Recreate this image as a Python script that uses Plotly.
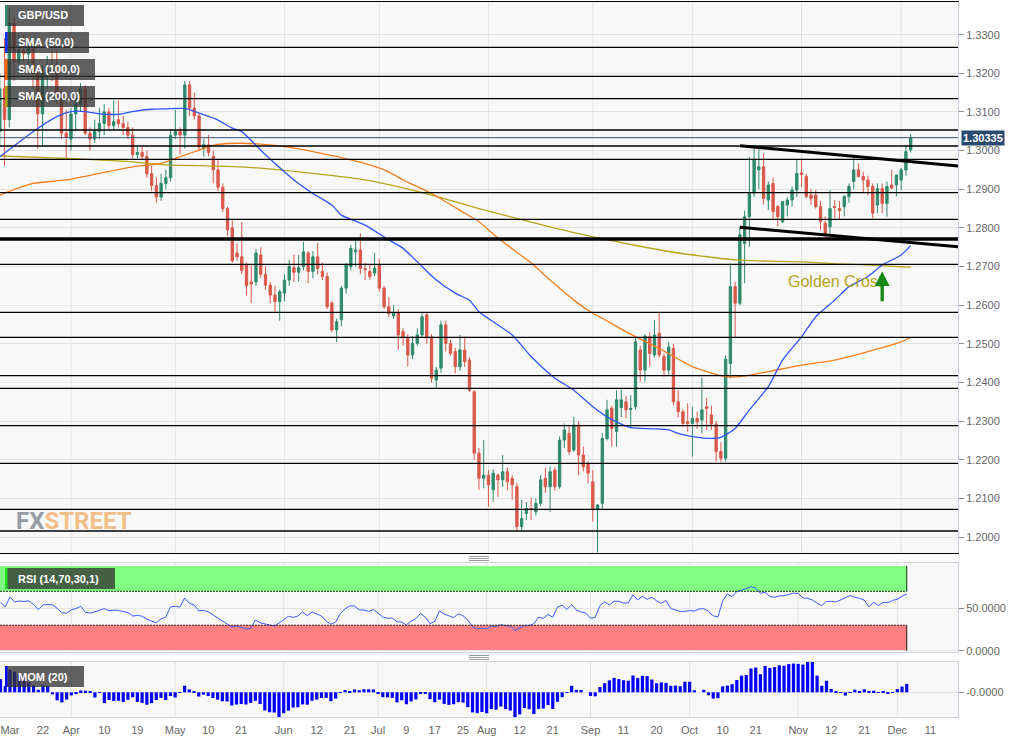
import numpy as np
import pandas as pd
import plotly.graph_objects as go

# ---------------------------------------------------------------- data
first_day = "2019-03-11"
last_day = "2019-12-04"
trade_days = pd.bdate_range(first_day, last_day)
calendar = pd.bdate_range(first_day, "2019-12-31")
pos = {d.strftime("%Y-%m-%d"): k for k, d in enumerate(calendar)}

open_ = [
    1.3050, 1.3160, 1.3080, 1.3330, 1.3230, 1.3260, 1.3250, 1.3265, 1.3200, 1.3095,
    1.3200, 1.3210, 1.3205, 1.3140, 1.3045, 1.3030, 1.3095, 1.3120, 1.3160, 1.3045,
    1.3030, 1.3050, 1.3070, 1.3100, 1.3065, 1.3080, 1.3070, 1.3060, 1.3040, 1.2990,
    1.2995, 1.2985, 1.2940, 1.2910, 1.2880, 1.2915, 1.2930, 1.3040, 1.3050, 1.3040,
    1.3170, 1.3110, 1.3090, 1.3005, 1.3015, 1.2985, 1.2950, 1.2905, 1.2850, 1.2800,
    1.2735, 1.2725, 1.2705, 1.2660, 1.2660, 1.2730, 1.2680, 1.2652, 1.2626, 1.2609,
    1.2631, 1.2665, 1.2697, 1.2685, 1.2700, 1.2735, 1.2687, 1.2725, 1.2687, 1.2674,
    1.2606, 1.2536, 1.2562, 1.2644, 1.2700, 1.2738, 1.2743, 1.2695, 1.2687, 1.2683,
    1.2704, 1.2644, 1.2596, 1.2572, 1.2580, 1.2531, 1.2514, 1.2471, 1.2501, 1.2523,
    1.2575, 1.2518, 1.2406, 1.2437, 1.2549, 1.2501, 1.2480, 1.2441, 1.2484, 1.2458,
    1.2376, 1.2217, 1.2152, 1.2160, 1.2122, 1.2160, 1.2148, 1.2169, 1.2152, 1.2130,
    1.2027, 1.2061, 1.2074, 1.2065, 1.2087, 1.2152, 1.2130, 1.2173, 1.2130, 1.2251,
    1.2268, 1.2225, 1.2290, 1.2212, 1.2191, 1.2143, 1.2070, 1.2087, 1.2255, 1.2333,
    1.2273, 1.2335, 1.2350, 1.2330, 1.2337, 1.2484, 1.2432, 1.2518, 1.2471, 1.2527,
    1.2467, 1.2432, 1.2488, 1.2350, 1.2324, 1.2298, 1.2294, 1.2307, 1.2303, 1.2337,
    1.2316, 1.2292, 1.2221, 1.2204, 1.2449, 1.2648, 1.2605, 1.2760, 1.2829, 1.2890,
    1.2950, 1.2958, 1.2872, 1.2915, 1.2855, 1.2816, 1.2859, 1.2872, 1.2898, 1.2942,
    1.2933, 1.2885, 1.2885, 1.2855, 1.2812, 1.2803, 1.2855, 1.2850, 1.2855, 1.2881,
    1.2920, 1.2950, 1.2933, 1.2924, 1.2907, 1.2859, 1.2902, 1.2863, 1.2911, 1.2911,
    1.2924, 1.2950, 1.3002,
]
high = [
    1.3200, 1.3290, 1.3370, 1.3345, 1.3300, 1.3300, 1.3290, 1.3275, 1.3205, 1.3220,
    1.3245, 1.3260, 1.3260, 1.3160, 1.3105, 1.3110, 1.3150, 1.3175, 1.3170, 1.3060,
    1.3080, 1.3110, 1.3120, 1.3110, 1.3130, 1.3130, 1.3090, 1.3075, 1.3060, 1.3010,
    1.3010, 1.3000, 1.2960, 1.2930, 1.2940, 1.2950, 1.3055, 1.3105, 1.3060, 1.3180,
    1.3180, 1.3150, 1.3095, 1.3030, 1.3040, 1.3000, 1.2975, 1.2915, 1.2855, 1.2825,
    1.2760, 1.2815, 1.2710, 1.2705, 1.2745, 1.2750, 1.2700, 1.2660, 1.2650, 1.2640,
    1.2680, 1.2717, 1.2730, 1.2730, 1.2764, 1.2740, 1.2740, 1.2761, 1.2710, 1.2685,
    1.2610, 1.2565, 1.2650, 1.2710, 1.2756, 1.2773, 1.2786, 1.2710, 1.2705, 1.2735,
    1.2720, 1.2650, 1.2620, 1.2600, 1.2590, 1.2540, 1.2525, 1.2520, 1.2540, 1.2579,
    1.2580, 1.2525, 1.2440, 1.2560, 1.2560, 1.2510, 1.2490, 1.2523, 1.2519, 1.2465,
    1.2380, 1.2230, 1.2251, 1.2173, 1.2175, 1.2165, 1.2212, 1.2180, 1.2160, 1.2140,
    1.2096, 1.2090, 1.2101, 1.2100, 1.2160, 1.2179, 1.2182, 1.2180, 1.2260, 1.2294,
    1.2290, 1.2311, 1.2300, 1.2234, 1.2195, 1.2173, 1.2085, 1.2269, 1.2355, 1.2340,
    1.2380, 1.2382, 1.2365, 1.2367, 1.2515, 1.2495, 1.2525, 1.2530, 1.2562, 1.2583,
    1.2475, 1.2505, 1.2500, 1.2380, 1.2330, 1.2346, 1.2337, 1.2324, 1.2412, 1.2360,
    1.2340, 1.2300, 1.2245, 1.2470, 1.2708, 1.2660, 1.2803, 1.2845, 1.2984, 1.3009,
    1.3006, 1.2993, 1.2920, 1.2930, 1.2860, 1.2870, 1.2880, 1.2907, 1.2976, 1.2975,
    1.2940, 1.2900, 1.2898, 1.2870, 1.2830, 1.2898, 1.2872, 1.2870, 1.2885, 1.2915,
    1.2984, 1.2967, 1.2945, 1.2935, 1.2915, 1.2915, 1.2915, 1.2920, 1.2950, 1.2937,
    1.2955, 1.3014, 1.3043,
]
low = [
    1.3010, 1.2960, 1.3060, 1.3180, 1.3190, 1.3230, 1.3220, 1.3160, 1.3005, 1.3010,
    1.3160, 1.3180, 1.3120, 1.3030, 1.2980, 1.3000, 1.3050, 1.3100, 1.3040, 1.3000,
    1.3020, 1.3030, 1.3040, 1.3055, 1.3055, 1.3060, 1.3040, 1.3030, 1.2980, 1.2980,
    1.2975, 1.2930, 1.2895, 1.2865, 1.2870, 1.2900, 1.2920, 1.3030, 1.2990, 1.3005,
    1.3090, 1.3080, 1.3000, 1.2985, 1.2985, 1.2915, 1.2895, 1.2840, 1.2780, 1.2710,
    1.2715, 1.2680, 1.2625, 1.2605, 1.2650, 1.2670, 1.2640, 1.2605, 1.2583, 1.2560,
    1.2610, 1.2650, 1.2660, 1.2660, 1.2690, 1.2657, 1.2670, 1.2680, 1.2665, 1.2590,
    1.2530, 1.2505, 1.2545, 1.2630, 1.2690, 1.2700, 1.2680, 1.2665, 1.2665, 1.2675,
    1.2635, 1.2590, 1.2570, 1.2565, 1.2484, 1.2495, 1.2441, 1.2460, 1.2495, 1.2515,
    1.2500, 1.2400, 1.2385, 1.2425, 1.2480, 1.2470, 1.2424, 1.2430, 1.2440, 1.2375,
    1.2200, 1.2122, 1.2126, 1.2078, 1.2091, 1.2104, 1.2130, 1.2120, 1.2096, 1.2015,
    1.2018, 1.2044, 1.2044, 1.2055, 1.2080, 1.2114, 1.2065, 1.2120, 1.2125, 1.2230,
    1.2212, 1.2220, 1.2160, 1.2170, 1.2139, 1.2040, 1.1960, 1.2070, 1.2250, 1.2234,
    1.2234, 1.2310, 1.2307, 1.2281, 1.2330, 1.2402, 1.2402, 1.2441, 1.2465, 1.2465,
    1.2415, 1.2420, 1.2340, 1.2310, 1.2285, 1.2273, 1.2208, 1.2280, 1.2268, 1.2277,
    1.2277, 1.2195, 1.2195, 1.2195, 1.2411, 1.2518, 1.2600, 1.2657, 1.2751, 1.2880,
    1.2900, 1.2860, 1.2846, 1.2820, 1.2803, 1.2812, 1.2830, 1.2855, 1.2880, 1.2905,
    1.2876, 1.2860, 1.2850, 1.2795, 1.2777, 1.2780, 1.2825, 1.2822, 1.2830, 1.2865,
    1.2900, 1.2930, 1.2890, 1.2885, 1.2825, 1.2838, 1.2838, 1.2829, 1.2900, 1.2881,
    1.2898, 1.2935, 1.2995,
]
close = [
    1.3160, 1.3080, 1.3330, 1.3230, 1.3260, 1.3250, 1.3265, 1.3200, 1.3095, 1.3200,
    1.3210, 1.3205, 1.3140, 1.3045, 1.3035, 1.3095, 1.3120, 1.3160, 1.3045, 1.3030,
    1.3050, 1.3070, 1.3100, 1.3065, 1.3075, 1.3070, 1.3060, 1.3040, 1.2990, 1.2995,
    1.2985, 1.2940, 1.2910, 1.2880, 1.2915, 1.2930, 1.3040, 1.3050, 1.3040, 1.3170,
    1.3110, 1.3090, 1.3010, 1.3015, 1.2995, 1.2950, 1.2905, 1.2850, 1.2795, 1.2715,
    1.2725, 1.2690, 1.2650, 1.2655, 1.2735, 1.2680, 1.2652, 1.2626, 1.2609, 1.2635,
    1.2665, 1.2700, 1.2685, 1.2697, 1.2738, 1.2687, 1.2725, 1.2695, 1.2674, 1.2596,
    1.2536, 1.2557, 1.2644, 1.2704, 1.2747, 1.2743, 1.2695, 1.2692, 1.2674, 1.2696,
    1.2644, 1.2596, 1.2578, 1.2580, 1.2523, 1.2518, 1.2471, 1.2501, 1.2523, 1.2570,
    1.2518, 1.2411, 1.2432, 1.2549, 1.2501, 1.2475, 1.2441, 1.2484, 1.2454, 1.2380,
    1.2217, 1.2152, 1.2160, 1.2135, 1.2165, 1.2148, 1.2169, 1.2143, 1.2135, 1.2027,
    1.2048, 1.2074, 1.2072, 1.2087, 1.2148, 1.2130, 1.2169, 1.2130, 1.2251, 1.2277,
    1.2221, 1.2290, 1.2212, 1.2182, 1.2165, 1.2070, 1.2083, 1.2255, 1.2329, 1.2281,
    1.2355, 1.2355, 1.2329, 1.2333, 1.2505, 1.2432, 1.2520, 1.2475, 1.2523, 1.2471,
    1.2432, 1.2492, 1.2350, 1.2324, 1.2294, 1.2294, 1.2307, 1.2298, 1.2329, 1.2333,
    1.2292, 1.2221, 1.2204, 1.2460, 1.2648, 1.2605, 1.2782, 1.2829, 1.2890, 1.2976,
    1.2958, 1.2876, 1.2911, 1.2842, 1.2829, 1.2868, 1.2872, 1.2898, 1.2941, 1.2938,
    1.2881, 1.2876, 1.2855, 1.2816, 1.2786, 1.2850, 1.2853, 1.2845, 1.2881, 1.2907,
    1.2950, 1.2933, 1.2924, 1.2907, 1.2838, 1.2902, 1.2863, 1.2907, 1.2903, 1.2937,
    1.2950, 1.2997, 1.30335,
]
# closes of the 40 sessions before the visible window (indicator warm-up)
pre_close = [
    1.2870, 1.2840, 1.2870, 1.2990, 1.2880, 1.2870, 1.2950, 1.3040, 1.3070, 1.3200,
    1.3190, 1.3080, 1.3120, 1.3120, 1.3075, 1.3040, 1.2940, 1.2930, 1.2940, 1.2940,
    1.2880, 1.2950, 1.2850, 1.2790, 1.2900, 1.2930, 1.3050, 1.3050, 1.3040, 1.3050,
    1.3080, 1.3250, 1.3310, 1.3260, 1.3190, 1.3160, 1.3160, 1.3120, 1.3010, 1.3010,
]

sma50_dates = ["2019-03-11", "2019-03-20", "2019-03-27", "2019-04-01", "2019-04-04", "2019-04-09",
               "2019-04-15", "2019-04-18", "2019-04-24", "2019-04-29", "2019-05-03", "2019-05-08",
               "2019-05-14", "2019-05-17", "2019-05-21", "2019-05-28", "2019-06-05", "2019-06-11",
               "2019-06-17", "2019-06-19", "2019-06-26", "2019-07-03", "2019-07-08", "2019-07-12",
               "2019-07-17", "2019-07-23", "2019-07-26", "2019-07-30", "2019-08-08", "2019-08-14",
               "2019-08-21", "2019-08-27", "2019-09-02", "2019-09-05", "2019-09-10", "2019-09-12",
               "2019-09-19", "2019-09-24", "2019-09-26", "2019-10-01", "2019-10-07", "2019-10-09",
               "2019-10-14", "2019-10-17", "2019-10-23", "2019-10-28", "2019-11-01", "2019-11-06",
               "2019-11-12", "2019-11-15", "2019-11-21", "2019-11-26", "2019-12-02", "2019-12-04"]
sma50_vals = [1.2984, 1.3049, 1.3088, 1.3101, 1.3101, 1.3095,
              1.3094, 1.3101, 1.3107, 1.3108, 1.3109, 1.3097,
              1.3079, 1.3058, 1.3049, 1.2989, 1.2924, 1.2889,
              1.2859, 1.2833, 1.2807, 1.2769, 1.2747, 1.2700,
              1.2665, 1.2631, 1.2613, 1.2583, 1.2523, 1.2467,
              1.2411, 1.2380, 1.2337, 1.2311, 1.2292, 1.2283,
              1.2280, 1.2277, 1.2268, 1.2260, 1.2255, 1.2258,
              1.2281, 1.2329, 1.2389, 1.2458, 1.2518, 1.2570,
              1.2613, 1.2648, 1.2674, 1.2704, 1.2730, 1.2754]

sma100_dates = ["2019-03-11", "2019-03-20", "2019-03-29", "2019-04-09", "2019-04-18", "2019-04-26",
                "2019-05-01", "2019-05-07", "2019-05-10", "2019-05-14", "2019-05-21", "2019-05-31",
                "2019-06-12", "2019-06-25", "2019-07-03", "2019-07-08", "2019-07-16", "2019-07-25",
                "2019-07-30", "2019-08-05", "2019-08-14", "2019-08-20", "2019-08-27", "2019-09-02",
                "2019-09-04", "2019-09-11", "2019-09-20", "2019-10-01", "2019-10-10", "2019-10-15",
                "2019-10-23", "2019-11-01", "2019-11-12", "2019-11-21", "2019-12-02", "2019-12-04"]
sma100_vals = [1.2885, 1.2915, 1.2924, 1.2941, 1.2958, 1.2967,
               1.2980, 1.2997, 1.3010, 1.3016, 1.3019, 1.3012,
               1.2995, 1.2970, 1.2945, 1.2924, 1.2889, 1.2838,
               1.2816, 1.2774, 1.2709, 1.2665, 1.2613, 1.2579,
               1.2566, 1.2531, 1.2488, 1.2441, 1.2415, 1.2415,
               1.2428, 1.2445, 1.2458, 1.2480, 1.2505, 1.2517]

sma200_dates = ["2019-03-11", "2019-03-29", "2019-04-18", "2019-04-29", "2019-05-08", "2019-05-21",
                "2019-06-06", "2019-06-26", "2019-07-16", "2019-07-30", "2019-08-14", "2019-08-28",
                "2019-09-12", "2019-09-26", "2019-10-03", "2019-10-14", "2019-10-23", "2019-11-01",
                "2019-11-12", "2019-11-21", "2019-12-04"]
sma200_vals = [1.2986, 1.2980, 1.2971, 1.2963, 1.2961, 1.2958,
               1.2945, 1.2924, 1.2885, 1.2850, 1.2815, 1.2785,
               1.2757, 1.2735, 1.2727, 1.2717, 1.2714, 1.2712,
               1.2707, 1.2704, 1.2698]

levels = [1.32673, 1.31923, 1.31343, 1.30533, 1.30119, 1.29775, 1.28911, 1.28222,
          1.27057, 1.25815, 1.25168, 1.24174, 1.23848, 1.22880, 1.21907, 1.20717, 1.20155]
key_level = 1.27712
trend_upper = (["2019-10-15", "2019-12-18"], [1.30127, 1.29604])
trend_lower = (["2019-10-15", "2019-12-18"], [1.28015, 1.27510])
last_price = 1.30335

tick_dates = ["2019-03-13", "2019-03-22", "2019-04-01", "2019-04-10", "2019-04-19", "2019-05-01",
              "2019-05-10", "2019-05-21", "2019-06-03", "2019-06-12", "2019-06-21", "2019-07-01",
              "2019-07-09", "2019-07-17", "2019-07-25", "2019-08-01", "2019-08-12", "2019-08-21",
              "2019-09-02", "2019-09-11", "2019-09-20", "2019-10-01", "2019-10-10", "2019-10-21",
              "2019-11-01", "2019-11-12", "2019-11-21", "2019-12-02", "2019-12-11"]
tick_labels = ["Mar", "22", "Apr", "10", "19", "May", "10", "21", "Jun", "12", "21", "Jul",
               "9", "17", "25", "Aug", "12", "21", "Sep", "11", "20", "Oct", "10", "21",
               "Nov", "12", "21", "Dec", "11"]
month_dates = ["2019-04-01", "2019-05-01", "2019-06-03", "2019-07-01", "2019-08-01",
               "2019-09-02", "2019-10-01", "2019-11-01", "2019-12-02"]
price_ticks = [1.20, 1.21, 1.22, 1.23, 1.24, 1.25, 1.26, 1.27, 1.28, 1.29, 1.30, 1.31, 1.32, 1.33]

# ---------------------------------------------------------------- indicators
xpos = [pos[d.strftime("%Y-%m-%d")] for d in trade_days]
allc = np.array(pre_close + close)
npre = len(pre_close)
mom = allc[npre:] - allc[npre - 20:len(allc) - 20]

diff = np.diff(allc)
gain = np.clip(diff, 0, None)
loss = np.clip(-diff, 0, None)
rsi_all = np.full(len(allc), np.nan)
ag, al = gain[:14].mean(), loss[:14].mean()
rsi_all[14] = 100 - 100 / (1 + ag / al)
for k in range(14, len(diff)):
    ag = (ag * 13 + gain[k]) / 14
    al = (al * 13 + loss[k]) / 14
    rsi_all[k + 1] = 100 - 100 / (1 + ag / al)
rsi = rsi_all[npre:]

# ---------------------------------------------------------------- style / geometry
FONT = "Liberation Sans, Arial, Helvetica, sans-serif"
C_UP, C_DN = "#2e8a6c", "#d9584a"
C50, C100, C200 = "#2f55ff", "#f57e1e", "#b9a51a"
W, H = 1029, 743
PL, PR, PT, PB = 0, 958, 2, 717          # plot area in px


def fx(px):
    return (px - PL) / (PR - PL)


def fy(py):
    return (PB - py) / (PB - PT)


MAIN_XR = [0.04, 201.98]
LOW_XR = [-0.106, 202.86]
MAIN_YR = [1.195859, 1.338458]
RSI_YR = [-1.53, 103.42]
MOM_YR = [-0.05255, 0.06447]

fig = go.Figure()

for dts, vals, col in [(sma200_dates, sma200_vals, C200), (sma100_dates, sma100_vals, C100),
                       (sma50_dates, sma50_vals, C50)]:
    fig.add_trace(go.Scatter(x=[pos[d] for d in dts], y=vals, mode="lines",
                             line=dict(color=col, width=1.3, shape="spline", smoothing=0.6),
                             xaxis="x", yaxis="y", hoverinfo="skip"))

fig.add_trace(go.Candlestick(
    x=xpos, open=open_, high=high, low=low, close=close, xaxis="x", yaxis="y",
    increasing=dict(line=dict(color=C_UP, width=1), fillcolor=C_UP),
    decreasing=dict(line=dict(color=C_DN, width=1), fillcolor=C_DN),
    whiskerwidth=0))

fig.add_trace(go.Scatter(x=xpos, y=rsi, mode="lines", line=dict(color="#3a5dff", width=1),
                         xaxis="x2", yaxis="y2", hoverinfo="skip"))
fig.add_trace(go.Bar(x=xpos, y=mom, marker=dict(color="#0000ff", line=dict(width=0)),
                     width=0.68, xaxis="x3", yaxis="y3", hoverinfo="skip"))

shapes = []
# month gridlines
for xr, yr in [("x", "y domain"), ("x2", "y2 domain"), ("x3", "y3 domain")]:
    for d in month_dates:
        shapes.append(dict(type="line", xref=xr, yref=yr, x0=pos[d], x1=pos[d], y0=0, y1=1,
                           line=dict(color="#e3e3e3", width=1), layer="below"))
# RSI zones
lastx = pos[last_day]
shapes += [
    dict(type="rect", xref="x2", yref="y2", x0=LOW_XR[0], x1=lastx, y0=70, y1=100,
         fillcolor="#80ff80", line=dict(width=0), layer="below"),
    dict(type="rect", xref="x2", yref="y2", x0=LOW_XR[0], x1=lastx, y0=0, y1=30,
         fillcolor="#ff8080", line=dict(width=0), layer="below"),
    dict(type="line", xref="x2", yref="y2", x0=LOW_XR[0], x1=lastx, y0=70, y1=70,
         line=dict(color="#1a3a1a", width=1, dash="2px,1px")),
    dict(type="line", xref="x2", yref="y2", x0=LOW_XR[0], x1=lastx, y0=30, y1=30,
         line=dict(color="#3a1a1a", width=1, dash="2px,1px")),
    dict(type="line", xref="x2", yref="y2", x0=lastx, x1=lastx, y0=70, y1=100,
         line=dict(color="#143014", width=1)),
    dict(type="line", xref="x2", yref="y2", x0=lastx, x1=lastx, y0=0, y1=30,
         line=dict(color="#301414", width=1)),
]
# horizontal levels on the price panel
for lv in levels:
    shapes.append(dict(type="line", xref="x domain", yref="y", x0=0, x1=1, y0=lv, y1=lv,
                       line=dict(color="black", width=1.3), layer="above"))
shapes.append(dict(type="line", xref="x domain", yref="y", x0=0, x1=1, y0=key_level, y1=key_level,
                   line=dict(color="black", width=3.5), layer="above"))
for tl in (trend_upper, trend_lower):
    shapes.append(dict(type="line", xref="x", yref="y", x0=pos[tl[0][0]], x1=pos[tl[0][1]],
                       y0=tl[1][0], y1=tl[1][1], line=dict(color="black", width=3), layer="above"))
shapes.append(dict(type="line", xref="x domain", yref="y", x0=0, x1=1, y0=last_price, y1=last_price,
                   line=dict(color="#34527c", width=1), layer="above"))

# legend boxes
boxes = [("GBP/USD", 5, 84, 5, 26, C_UP), ("SMA (50,0)", 5, 89, 32, 53, "#1133ff"),
         ("SMA (100,0)", 5, 95, 59, 80, "#f06a0a"), ("SMA (200,0)", 5, 95, 86, 107, "#b8a000"),
         ("RSI (14,70,30,1)", 5, 115, 568, 589, "#22dd22"), ("MOM (20)", 5, 84, 666, 687, "#0000ff")]
annotations = []
for txt, x0, x1, y0, y1, sw in boxes:
    shapes.append(dict(type="rect", xref="paper", yref="paper", x0=fx(x0), x1=fx(x1),
                       y0=fy(y1), y1=fy(y0), fillcolor="rgba(52,52,52,0.78)",
                       line=dict(width=0), layer="above"))
    shapes.append(dict(type="rect", xref="paper", yref="paper", x0=fx(x0), x1=fx(x0 + 2.5),
                       y0=fy(y1), y1=fy(y0), fillcolor=sw, line=dict(width=0), layer="above"))
    annotations.append(dict(xref="paper", yref="paper", x=fx(16), y=fy((y0 + y1) / 2),
                            xanchor="left", yanchor="middle", showarrow=False, text="<b>%s</b>" % txt,
                            font=dict(family=FONT, size=11, color="white")))
# panel handles
for yy in (556.5, 558.5, 560.5, 655.5, 657.5, 659.5):
    shapes.append(dict(type="line", xref="paper", yref="paper", x0=fx(469), x1=fx(489),
                       y0=fy(yy), y1=fy(yy), line=dict(color="#9a9a9a", width=1)))

# golden cross note and arrow
annotations.append(dict(xref="x", yref="y", x=pos["2019-11-12"] + 0.4, y=1.2661, showarrow=False,
                        text="Golden Cross", font=dict(family=FONT, size=16, color="#b5a21e")))
annotations.append(dict(xref="x", yref="y", x=pos["2019-11-26"], y=1.2688, axref="x", ayref="y",
                        ax=pos["2019-11-26"], ay=1.2606, showarrow=True, arrowhead=2, arrowsize=0.9,
                        arrowwidth=3.3, arrowcolor="#138a13", text="", standoff=0))
# watermark
annotations.append(dict(xref="paper", yref="paper", x=fx(14), y=fy(520.5), xanchor="left",
                        yanchor="middle", showarrow=False,
                        text="<b><span style='color:#8e939c'>FX</span><span style='color:#f3b97d'>STREET</span></b>",
                        font=dict(family="Roboto, Liberation Sans, sans-serif", size=24), opacity=0.9))
# last price tag
annotations.append(dict(xref="paper", yref="y", x=fx(960.5), y=last_price, xanchor="left",
                        yanchor="middle", showarrow=False, text="<b>1.30335</b>", bgcolor="#2b4a70",
                        borderpad=1, font=dict(family=FONT, size=11, color="white")))

axis_common = dict(zeroline=False, showspikes=False)
yax_common = dict(side="right", ticks="outside", ticklen=5, tickcolor="#8c8c8c",
                  showline=True, linecolor="#c7d0de", mirror=True, gridcolor="#e4e4e4",
                  tickfont=dict(family=FONT, size=11, color="#666666"), **axis_common)

fig.update_layout(
    width=W, height=H, margin=dict(l=PL, r=W - PR, t=PT, b=H - PB),
    paper_bgcolor="white", plot_bgcolor="#f8f8f8", showlegend=False,
    font=dict(family=FONT, size=11, color="#666666"),
    xaxis=dict(domain=[0, 1], anchor="y", range=MAIN_XR, showticklabels=False, showgrid=False,
               showline=True, linecolor="black", linewidth=1.3, mirror=True, ticks="",
               rangeslider=dict(visible=False), **axis_common),
    yaxis=dict(domain=[fy(553), 1], anchor="x", range=MAIN_YR, tickvals=price_ticks,
               ticktext=["%.4f" % v for v in price_ticks], showgrid=True, **yax_common),
    xaxis2=dict(domain=[0, 1], anchor="y2", matches="x3", showticklabels=False, showgrid=False,
                showline=True, linecolor="#cfd5df", mirror=True, ticks="", **axis_common),
    yaxis2=dict(domain=[fy(652), fy(563)], anchor="x2", range=RSI_YR, tickvals=[0, 50],
                ticktext=["0.0000", "50.0000"], showgrid=True, **yax_common),
    xaxis3=dict(domain=[0, 1], anchor="y3", range=LOW_XR, tickmode="array",
                tickvals=[pos[d] for d in tick_dates], ticktext=tick_labels, showgrid=False,
                ticks="outside", ticklen=3, tickcolor="rgba(0,0,0,0)",
                showline=True, linecolor="#cfd5df", mirror=True,
                tickfont=dict(family=FONT, size=11, color="#666666"), **axis_common),
    yaxis3=dict(domain=[0, fy(662)], anchor="x3", range=MOM_YR, tickvals=[0],
                ticktext=["-0.0000"], showgrid=True, **yax_common),
    shapes=shapes, annotations=annotations,
)

fig.write_html("out.html", config={"displayModeBar": False},
               post_script="document.body.style.margin='0px';")
